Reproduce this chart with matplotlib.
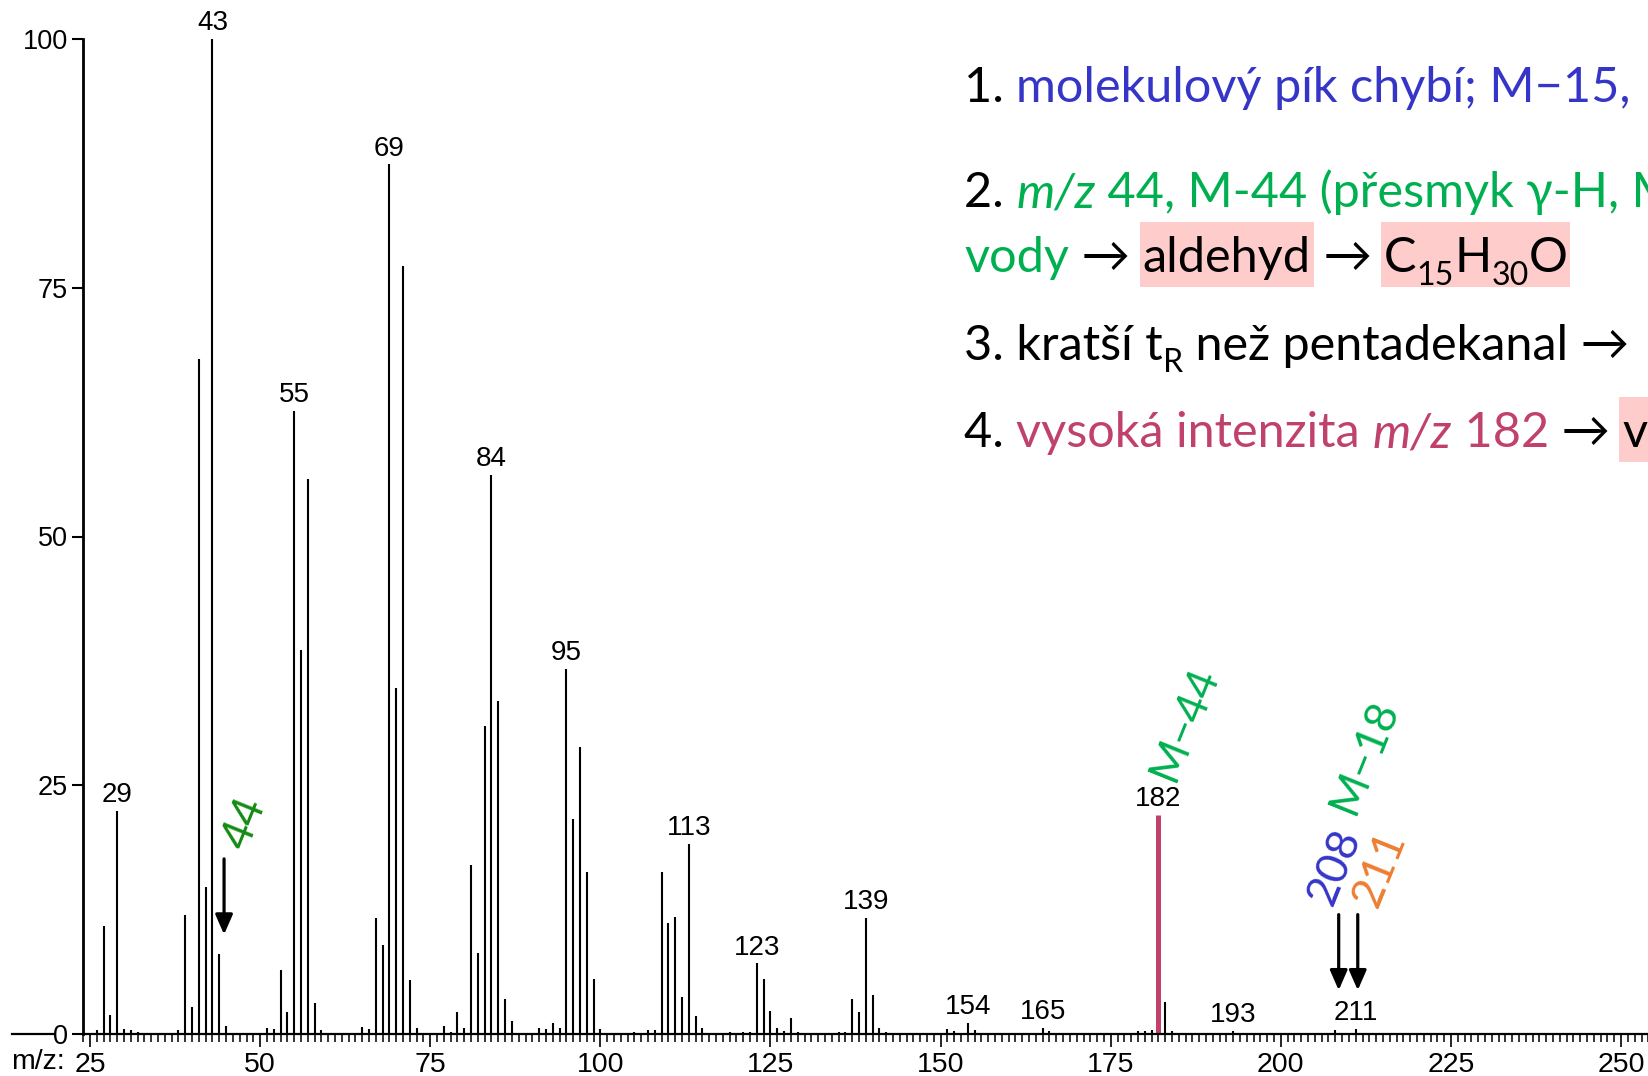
import numpy as np
import matplotlib
matplotlib.use("Agg")
import matplotlib.pyplot as plt
from matplotlib.lines import Line2D
from matplotlib.patches import Rectangle

# spectrum (relative intensity, %)
mz = [26, 27, 28, 29, 30, 31, 32, 38, 39, 40, 41, 42, 43, 44, 45,
      51, 52, 53, 54, 55, 56, 57, 58, 59, 65, 66, 67, 68, 69, 70, 71, 72, 73,
      77, 78, 79, 80, 81, 82, 83, 84, 85, 86, 87, 91, 92, 93, 94, 95, 96, 97,
      98, 99, 100, 105, 107, 108, 109, 110, 111, 112, 113, 114, 115, 119, 121,
      122, 123, 124, 125, 126, 127, 128, 129, 135, 136, 137, 138, 139, 140,
      141, 142, 151, 152, 154, 155, 165, 166, 179, 180, 181, 182, 183, 184,
      193, 208, 211]
intensity = [0.4, 10.9, 1.9, 22.4, 0.5, 0.4, 0.2, 0.4, 12.0, 2.7, 67.8, 14.8, 100, 8.0, 0.8,
             0.6, 0.5, 6.4, 2.2, 62.6, 38.6, 55.8, 3.1, 0.4, 0.7, 0.5, 11.7, 8.9, 87.4, 34.8, 77.2, 5.4, 0.6,
             0.8, 0.2, 2.2, 0.6, 17.0, 8.1, 31.0, 56.2, 33.5, 3.5, 1.3, 0.6, 0.5, 1.1, 0.6, 36.7, 21.6, 28.8,
             16.3, 5.5, 0.5, 0.2, 0.4, 0.4, 16.3, 11.2, 11.8, 3.7, 19.1, 1.8, 0.6, 0.2, 0.2,
             0.2, 7.1, 5.5, 2.3, 0.6, 0.3, 1.6, 0.2, 0.2, 0.2, 3.5, 2.2, 11.7, 3.9,
             0.6, 0.2, 0.5, 0.3, 1.1, 0.4, 0.6, 0.3, 0.3, 0.3, 0.4, 22.0, 3.2, 0.3,
             0.3, 0.4, 0.5]
labeled = [29, 43, 55, 69, 84, 95, 113, 123, 139, 154, 165, 182, 193, 211]
highlight = 182
arrows_mz = [44.7, 208.5, 211.3]

BLUE = "#3535C8"
GREEN = "#00B050"
DKGREEN = "#138C13"
CRIMSON = "#C0426C"
ORANGE = "#ED7D31"
PINK = "#FFCCCC"

W, H = 1649, 1076
fig = plt.figure(figsize=(W / 100, H / 100), dpi=100)
ax = fig.add_axes([83 / W, (H - 1034) / H, 1 - 83 / W, (1034 - 39) / H])
ax.patch.set_visible(False)

def px(x, y):
    return x / W, 1 - y / H

mz_arr = np.array(mz)
inten = np.array(intensity)
normal = mz_arr != highlight
ax.vlines(mz_arr[normal], 0, inten[normal], color="black", lw=1.5)
ax.vlines(mz_arr[~normal], 0, inten[~normal], color=CRIMSON, lw=3.6)

ax.set_xlim(23.97, 254.1)
ax.set_ylim(0, 100)
for s in ["top", "right"]:
    ax.spines[s].set_visible(False)
ax.spines["left"].set_linewidth(2.0)
ax.spines["bottom"].set_linewidth(1.6)

ax.set_xticks(np.arange(25, 251, 25))
ax.set_xticks(np.arange(24, 255, 1), minor=True)
ax.set_yticks([0, 25, 50, 75, 100])
ax.tick_params(axis="x", which="major", length=9, width=1.2, pad=4, labelsize=20.5)
ax.tick_params(axis="x", which="minor", length=6, width=1.1)
ax.tick_params(axis="y", length=8, width=1.5, pad=3, labelsize=19.5)
for lab in ax.get_xticklabels() + ax.get_yticklabels():
    lab.set_family("Liberation Sans")

lut = dict(zip(mz, intensity))
for m in labeled:
    ax.annotate(str(m), (m, lut[m]), xytext=(0, 2), textcoords="offset points",
                ha="center", va="bottom", fontsize=20, family="Liberation Sans",
                annotation_clip=False)

# arrows
arr = dict(arrowstyle="-|>,head_width=0.35,head_length=0.8", lw=2.3, color="black",
           mutation_scale=15, shrinkA=0, shrinkB=0)
ax.annotate("", xy=(arrows_mz[0], 10.0), xytext=(arrows_mz[0], 17.6), arrowprops=arr)
ax.annotate("", xy=(arrows_mz[1], 4.4), xytext=(arrows_mz[1], 12.0), arrowprops=arr)
ax.annotate("", xy=(arrows_mz[2], 4.4), xytext=(arrows_mz[2], 12.0), arrowprops=arr)

# baseline stub left of the axis and the m/z label
fig.add_artist(Line2D([12 / W, 54 / W], [1 - 1034 / H] * 2, color="black", lw=1.6))
fig.text(*px(11, 1062), "m/z:", fontsize=20.5, family="Liberation Sans", va="center", ha="left")

FONT = ["Lato", "DejaVu Sans"]
rot = dict(rotation=68, rotation_mode="anchor", ha="center", va="center", family=FONT, fontsize=32)
fig.text(*px(245, 823), "44", color=DKGREEN, **rot)
fig.text(*px(1185, 723), "M\u221244", color=GREEN, **rot)
fig.text(*px(1365, 756), "M\u221218", color=GREEN, **rot)
fig.text(*px(1335, 866), "208", color=BLUE, **rot)
fig.text(*px(1380, 868), "211", color=ORANGE, **rot)

# text block on the right (cut by the right edge, as in the slide)
r = fig.canvas.get_renderer()
MAIN = 35

def width(s, **kw):
    t = fig.text(0, 0, s + "|", **kw)
    w1 = t.get_window_extent(r).width
    t.remove()
    t = fig.text(0, 0, "|", **kw)
    w2 = t.get_window_extent(r).width
    t.remove()
    return w1 - w2

def line(x, y, pieces):
    spans = []
    for s, color, style, size, dy in pieces:
        kw = dict(color=color, style=style, fontsize=size, family=FONT)
        fig.text(*px(x, y + dy), s, va="baseline", ha="left", zorder=3, **kw)
        w = width(s, **kw)
        spans.append((x, x + w))
        x += w
    return spans

def piece(s, color="black", style="normal", size=MAIN, dy=0):
    return (s, color, style, size, dy)

SUB = MAIN * 0.66
line(964, 102, [piece("1. "), piece("molekulový pík chybí; M\u221215,", BLUE)])
line(964, 207, [piece("2. "), piece("m/z", GREEN, "italic"),
                piece(" 44, M-44 (přesmyk γ-H, M", GREEN)])
sp = line(964, 272, [piece("vody", GREEN), piece(" \u2192 "), piece("aldehyd"),
                     piece(" \u2192 "), piece("C"), piece("15", size=SUB, dy=13),
                     piece("H"), piece("30", size=SUB, dy=13), piece("O")])
line(964, 360, [piece("3. kratší t"), piece("R", size=SUB, dy=12),
                piece(" než pentadekanal \u2192")])
sp4 = line(964, 447, [piece("4. "), piece("vysoká intenzita ", CRIMSON),
                      piece("m/z", CRIMSON, "italic"), piece(" 182", CRIMSON),
                      piece(" \u2192 "), piece("v")])

def box(x0, x1, base):
    x0, x1 = x0 - 3, x1 + 3
    fig.add_artist(Rectangle(px(x0, base + 15), (x1 - x0) / W, 65 / H,
                             facecolor=PINK, edgecolor="none", zorder=1))

box(sp[2][0], sp[2][1], 272)
box(sp[4][0], sp[8][1], 272)
box(sp4[5][0], sp4[5][0] + 60, 447)

fig.savefig("out.png", dpi=100)
